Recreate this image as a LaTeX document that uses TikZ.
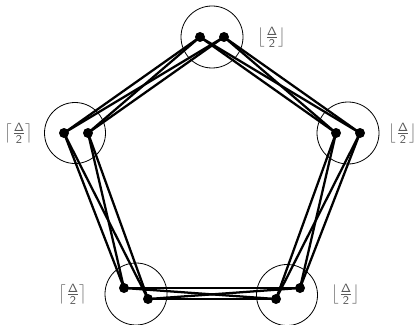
\documentclass[tikz,border=0pt]{standalone}
\usepackage{amsmath}
\begin{document}
\begin{tikzpicture}[x=0.75pt,y=-0.75pt,
  vtx/.style={circle,fill=black,inner sep=0pt,minimum size=7.5pt},
  grp/.style={draw=black,line width=0.6pt},
  edge/.style={line width=1.7pt,black},
  lbl/.style={text=black!65,font=\fontsize{13}{15}\selectfont,inner sep=0pt}]
\useasboundingbox (0,0) rectangle (416,324);
\begin{scope}
\clip (0,0) rectangle (416,324);
\draw[grp] (212,37) circle (31);
\draw[grp] (75,133) circle (30.5);
\draw[grp] (348,133) circle (31);
\draw[grp] (136,294) circle (31);
\draw[grp] (287,295) circle (30.5);
\end{scope}
\coordinate (t1) at (200,37);
\coordinate (t2) at (224,37);
\coordinate (r1) at (336,133);
\coordinate (r2) at (360,133);
\coordinate (l1) at (64,133);
\coordinate (l2) at (88,133);
\coordinate (bl1) at (124,288);
\coordinate (bl2) at (148,299);
\coordinate (br1) at (276,299);
\coordinate (br2) at (300,288);
\foreach \a/\b in {t1/r1,t1/r2,t2/r1,t2/r2,
                   t1/l1,t1/l2,t2/l1,t2/l2,
                   l1/bl1,l1/bl2,l2/bl1,l2/bl2,
                   r1/br1,r1/br2,r2/br1,r2/br2,
                   bl1/br1,bl1/br2,bl2/br1,bl2/br2}
  \draw[edge] (\a) -- (\b);
\foreach \v in {t1,t2,r1,r2,l1,l2,bl1,bl2,br1,br2}
  \node[vtx] (n\v) at (\v) {};
\node[lbl] (lt) at (272,37) {$\left\lfloor\frac{\mathsf{\Delta}}{\mathsf{2}}\right\rfloor$};
\node[lbl] (lr) at (403,133) {$\left\lfloor\frac{\mathsf{\Delta}}{\mathsf{2}}\right\rfloor$};
\node[lbl] (ll) at (19,133) {$\left\lceil\frac{\mathsf{\Delta}}{\mathsf{2}}\right\rceil$};
\node[lbl] (lbl) at (73,294) {$\left\lceil\frac{\mathsf{\Delta}}{\mathsf{2}}\right\rceil$};
\node[lbl] (lbr) at (346,294) {$\left\lfloor\frac{\mathsf{\Delta}}{\mathsf{2}}\right\rfloor$};
\end{tikzpicture}
\end{document}
